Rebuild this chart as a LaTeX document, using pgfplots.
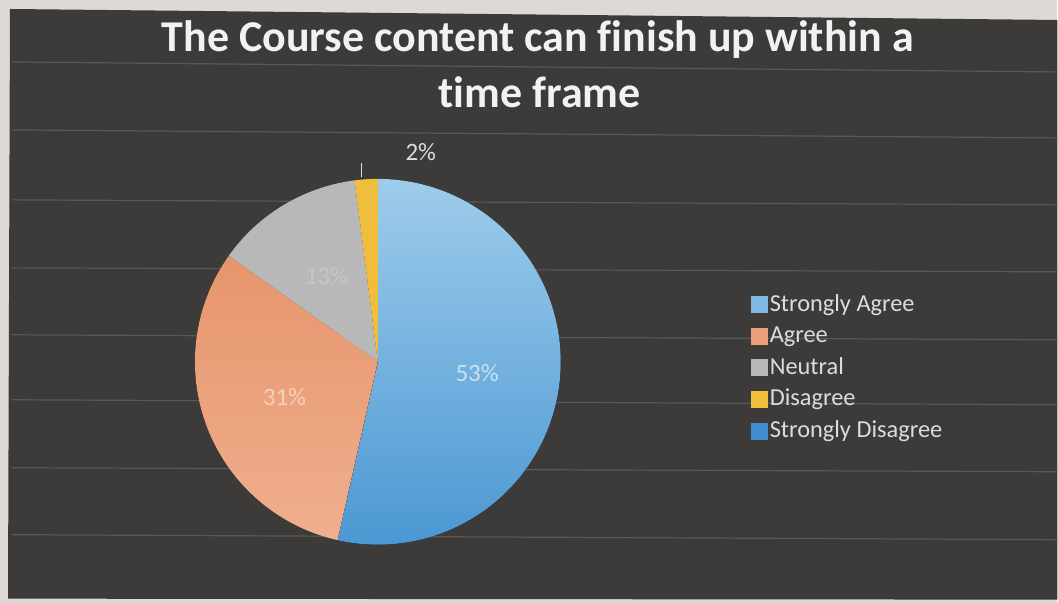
\documentclass[border=0pt]{standalone}
\usepackage{pgfplots}
\usepackage{pgfplotstable}
\pgfplotsset{compat=1.18}
\usepackage{fontspec}
\setmainfont{Carlito}[Ligatures=NoCommon]
\definecolor{paper}{HTML}{DDDAD5}
\definecolor{bg}{HTML}{3C3B39}
\definecolor{streak}{HTML}{5A5956}
\definecolor{c0top}{HTML}{9ECCEB}
\definecolor{c0bot}{HTML}{4A97D3}
\definecolor{c0}{HTML}{7FB8E2}
\definecolor{c1top}{HTML}{E6956C}
\definecolor{c1bot}{HTML}{F0AF8E}
\definecolor{c1}{HTML}{EA9F7A}
\definecolor{c2}{HTML}{B9B8B8}
\definecolor{c3}{HTML}{F0BE3C}
\definecolor{c4}{HTML}{3F8ED0}
\definecolor{l0}{HTML}{C9E1F1}
\definecolor{l1}{HTML}{F5D0BC}
\definecolor{l2}{HTML}{C6C6C6}
\definecolor{txt}{HTML}{DCDCDC}
\definecolor{ttl}{HTML}{F2F2F2}

\pgfplotstableread{
label value
{Strongly Agree} 53
Agree 31
Neutral 13
Disagree 2
{Strongly Disagree} 0
}\piedata

\def\pietotal{0}
\pgfplotsforeachungrouped \i in {0,...,4}{%
  \pgfplotstablegetelem{\i}{value}\of\piedata
  \pgfmathsetmacro\pietotal{\pietotal+\pgfplotsretval}%
}
\def\piecum{0}
\pgfplotsforeachungrouped \i in {0,...,4}{%
  \pgfplotstablegetelem{\i}{value}\of\piedata
  \let\pieval\pgfplotsretval
  \pgfmathsetmacro\piesa{90-360*(\piecum/\pietotal)}%
  \pgfmathsetmacro\piecum{\piecum+\pieval}%
  \pgfmathsetmacro\pieea{90-360*(\piecum/\pietotal)}%
  \pgfmathsetmacro\piema{(\piesa+\pieea)/2}%
  \expandafter\xdef\csname piesa\i\endcsname{\piesa}%
  \expandafter\xdef\csname pieea\i\endcsname{\pieea}%
  \expandafter\xdef\csname piema\i\endcsname{\piema}%
  \expandafter\xdef\csname pieval\i\endcsname{\pieval}%
}

\tikzset{
  slice0/.style={top color=c0top, bottom color=c0bot},
  slice1/.style={top color=c1top, bottom color=c1bot},
  slice2/.style={fill=c2},
  slice3/.style={fill=c3},
  streakline/.style={streak, line width=0.6pt},
}

\begin{document}
\begin{tikzpicture}
\begin{axis}[
  x=0.5pt, y=0.5pt,
  xmin=0, xmax=1058, ymin=0, ymax=603,
  hide axis, clip=false,
  legend style={at={(axis cs:745,316)}, anchor=north west, draw=none, fill=none,
    text=txt, font=\fontsize{12.2}{14}\selectfont, row sep=2.3pt,
    nodes={inner sep=1pt, text height=9pt, text depth=2.5pt}, cells={anchor=west}},
  legend cell align=left,
  /tikz/every even column/.style={column sep=1.8pt},
]
% background (photo of a screen on paper)
\fill[paper] (axis cs:0,0) rectangle (axis cs:1058,603);
\fill[bg] (axis cs:10,594) -- (axis cs:1058,583) -- (axis cs:1058,3) -- (axis cs:8,4) -- cycle;
\draw[streakline] (axis cs:12,541) -- (axis cs:1058,531);
\draw[streakline] (axis cs:12,473) -- (axis cs:1058,465);
\draw[streakline] (axis cs:12,403) -- (axis cs:1058,398);
\draw[streakline] (axis cs:12,335) -- (axis cs:1058,331);
\draw[streakline] (axis cs:12,268) -- (axis cs:1058,263);
\draw[streakline] (axis cs:12,203) -- (axis cs:1058,198);
\draw[streakline] (axis cs:12,135) -- (axis cs:1058,131);
\draw[streakline] (axis cs:12,68) -- (axis cs:1058,63);
% title
\node[anchor=base, text=ttl, font=\fontsize{22}{26}\selectfont\bfseries] at (axis cs:538,551) {The Course content can finish up within a};
\node[anchor=base, text=ttl, font=\fontsize{22}{26}\selectfont\bfseries] at (axis cs:540,495) {time frame};
% pie slices
\pgfplotsinvokeforeach{0,...,3}{
  \fill[slice#1] (axis cs:378,241) -- ([shift={(\csname piesa#1\endcsname:91.5pt)}]axis cs:378,241)
    arc[start angle=\csname piesa#1\endcsname, end angle=\csname pieea#1\endcsname, radius=91.5pt] -- cycle;
}
% data labels
\pgfplotsinvokeforeach{0,1,2}{
  \node[text=l#1, font=\fontsize{12.5}{14}\selectfont] at ([shift={(\csname piema#1\endcsname:50pt)}]axis cs:378,241) {\csname pieval#1\endcsname\%};
}
\draw[txt, line width=0.5pt] (axis cs:362,440) -- (axis cs:362,426);
\node[text=txt, font=\fontsize{12.5}{14}\selectfont] at (axis cs:421,451) {\csname pieval3\endcsname\%};
% legend
\addlegendimage{legend image code/.code={\fill[c0] (0pt,-4pt) rectangle (8pt,4pt);}}
\addlegendentry{Strongly Agree}
\addlegendimage{legend image code/.code={\fill[c1] (0pt,-4pt) rectangle (8pt,4pt);}}
\addlegendentry{Agree}
\addlegendimage{legend image code/.code={\fill[c2] (0pt,-4pt) rectangle (8pt,4pt);}}
\addlegendentry{Neutral}
\addlegendimage{legend image code/.code={\fill[c3] (0pt,-4pt) rectangle (8pt,4pt);}}
\addlegendentry{Disagree}
\addlegendimage{legend image code/.code={\fill[c4] (0pt,-4pt) rectangle (8pt,4pt);}}
\addlegendentry{Strongly Disagree}
\end{axis}
\end{tikzpicture}
\end{document}
